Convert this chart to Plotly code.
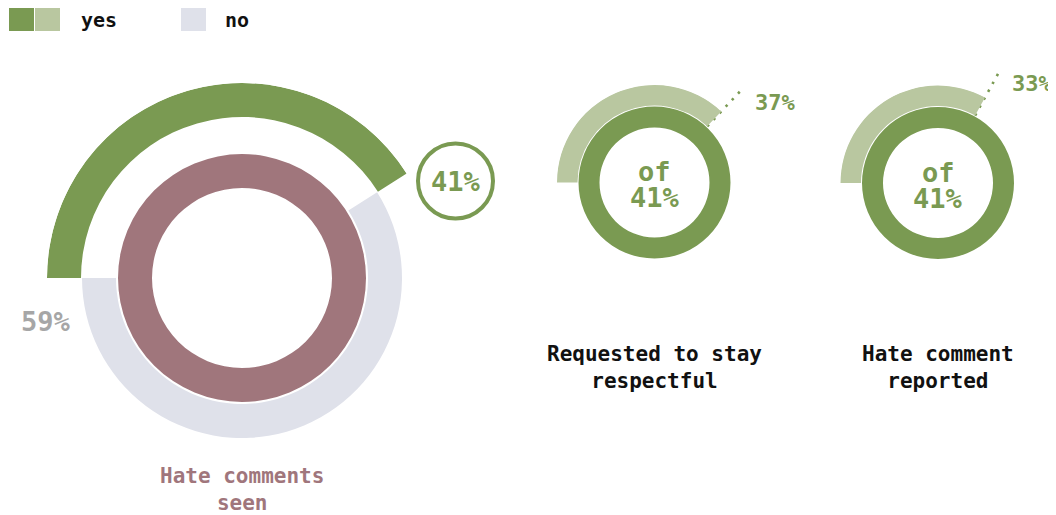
import numpy as np
import plotly.graph_objects as go

# ---------------- data ----------------
main_title = "Hate comments<br>seen"
seen_values = [41, 59]            # yes, no
sub_titles = ["Requested to stay<br>respectful", "Hate comment<br>reported"]
sub_values = [37, 33]             # share of the 41% "yes"
sub_base_label = "41%"
legend_labels = ["yes", "no"]

# ---------------- style ----------------
VW, VH = 1056, 515      # window size
OFF = 8                 # page body margin
W, H = VW - OFF, VH - OFF
GREEN = "#7a9a52"
LIGHT = "#b9c7a0"
GRAY = "#dfe1ea"
MAUVE = "#a0767c"
LABEL_GRAY = "#a6a6a6"
FONT = "DejaVu Sans Mono"

BIG = dict(cx=242, cy=278, R=195)
SMALL = [dict(cx=654.5, cy=182.5, R=98), dict(cx=938, cy=183, R=98)]


def px_domain(cx, cy, R):
    x0 = cx - OFF
    y0 = cy - OFF
    return dict(x=[(x0 - R) / W, (x0 + R) / W], y=[(H - y0 - R) / H, (H - y0 + R) / H])


fig = go.Figure()

# ---------- big donut ----------
yes_deg = seen_values[0] * 3.6
no_deg = seen_values[1] * 3.6
fig.add_trace(go.Barpolar(r=[34], base=[90], theta=[180], width=[360],
                          marker=dict(color=MAUVE, line=dict(width=0)),
                          subplot="polar", hoverinfo="skip", showlegend=False))
fig.add_trace(go.Barpolar(r=[34], base=[126], theta=[yes_deg + no_deg / 2], width=[no_deg],
                          marker=dict(color=GRAY, line=dict(width=0)),
                          subplot="polar", hoverinfo="skip", showlegend=False))
fig.add_trace(go.Barpolar(r=[34], base=[161], theta=[yes_deg / 2], width=[yes_deg],
                          marker=dict(color=GREEN, line=dict(width=0)),
                          subplot="polar", hoverinfo="skip", showlegend=False))

# ---------- small donuts ----------
for i, v in enumerate(sub_values):
    sp = "polar%d" % (i + 2)
    deg = v * 3.6
    fig.add_trace(go.Barpolar(r=[21], base=[55], theta=[180], width=[360],
                              marker=dict(color=GREEN, line=dict(width=0)),
                              subplot=sp, hoverinfo="skip", showlegend=False))
    fig.add_trace(go.Barpolar(r=[20.5], base=[77], theta=[deg / 2], width=[deg],
                              marker=dict(color=LIGHT, line=dict(width=0)),
                              subplot=sp, hoverinfo="skip", showlegend=False))

polar_common = dict(
    bgcolor="rgba(0,0,0,0)",
    angularaxis=dict(rotation=180, direction="clockwise", visible=False,
                     showgrid=False, showline=False, showticklabels=False),
)

annotations = []

# leader lines and labels for small donuts
for i, v in enumerate(sub_values):
    c = SMALL[i]
    a = np.deg2rad(180 - v * 3.6)
    rr = np.array([77, 131])
    xs = c["cx"] + rr * np.cos(a)
    ys = c["cy"] - rr * np.sin(a)
    fig.add_trace(go.Scatter(x=xs, y=ys, mode="lines",
                             line=dict(color=GREEN, width=2.6, dash="2.5px,6.5px"),
                             hoverinfo="skip", showlegend=False, xaxis="x", yaxis="y"))
    annotations.append(dict(x=xs[-1] + 9, y=ys[-1] + 15, xref="x", yref="y",
                            text="%d%%" % v, showarrow=False, xanchor="left", yanchor="middle",
                            font=dict(family=FONT, size=22, color=GREEN, weight="bold")))
    annotations.append(dict(x=c["cx"], y=c["cy"] - 11, xref="x", yref="y", text="of",
                            showarrow=False, xanchor="center", yanchor="middle",
                            font=dict(family=FONT, size=27, color=GREEN, weight="bold")))
    annotations.append(dict(x=c["cx"], y=c["cy"] + 15, xref="x", yref="y", text=sub_base_label,
                            showarrow=False, xanchor="center", yanchor="middle",
                            font=dict(family=FONT, size=27, color=GREEN, weight="bold")))
    annotations.append(dict(x=c["cx"], y=367, xref="x", yref="y", text=sub_titles[i],
                            showarrow=False, xanchor="center", yanchor="middle",
                            font=dict(family=FONT, size=21, color="#111111", weight="bold")))

# 41% badge
fig.add_trace(go.Scatter(x=[455.5], y=[181], mode="markers",
                         marker=dict(size=75, color="white", line=dict(color=GREEN, width=4)),
                         hoverinfo="skip", showlegend=False, xaxis="x", yaxis="y"))
annotations.append(dict(x=455.5, y=181, xref="x", yref="y", text="%d%%" % seen_values[0],
                        showarrow=False, xanchor="center", yanchor="middle",
                        font=dict(family=FONT, size=27, color=GREEN, weight="bold")))
annotations.append(dict(x=73, y=321.5, xref="x", yref="y", text="%d%%" % seen_values[1],
                        showarrow=False, xanchor="right", yanchor="middle",
                        font=dict(family=FONT, size=27, color=LABEL_GRAY, weight="bold")))
annotations.append(dict(x=242, y=489, xref="x", yref="y", text=main_title,
                        showarrow=False, xanchor="center", yanchor="middle",
                        font=dict(family=FONT, size=21, color=MAUVE, weight="bold")))

# legend
shapes = [
    dict(type="rect", xref="x", yref="y", x0=9, x1=34, y0=6, y1=31, fillcolor=GREEN, line=dict(width=0)),
    dict(type="rect", xref="x", yref="y", x0=35, x1=60, y0=6, y1=31, fillcolor=LIGHT, line=dict(width=0)),
    dict(type="rect", xref="x", yref="y", x0=181, x1=206, y0=6, y1=31, fillcolor=GRAY, line=dict(width=0)),
]
annotations.append(dict(x=79, y=19.5, xref="x", yref="y", text=legend_labels[0], showarrow=False,
                        xanchor="left", yanchor="middle",
                        font=dict(family=FONT, size=20, color="#111111", weight="bold")))
annotations.append(dict(x=223, y=19.5, xref="x", yref="y", text=legend_labels[1], showarrow=False,
                        xanchor="left", yanchor="middle",
                        font=dict(family=FONT, size=20, color="#111111", weight="bold")))

fig.update_layout(
    width=W, height=H,
    margin=dict(l=0, r=0, t=0, b=0),
    paper_bgcolor="white", plot_bgcolor="rgba(0,0,0,0)",
    showlegend=False,
    xaxis=dict(range=[OFF, VW], domain=[0, 1], visible=False, fixedrange=True),
    yaxis=dict(range=[VH, OFF], domain=[0, 1], visible=False, fixedrange=True),
    polar=dict(domain=px_domain(**BIG), radialaxis=dict(range=[0, BIG["R"]], visible=False), **polar_common),
    polar2=dict(domain=px_domain(**SMALL[0]), radialaxis=dict(range=[0, SMALL[0]["R"]], visible=False), **polar_common),
    polar3=dict(domain=px_domain(**SMALL[1]), radialaxis=dict(range=[0, SMALL[1]["R"]], visible=False), **polar_common),
    shapes=shapes,
    annotations=annotations,
)

fig.write_html("out.html")
